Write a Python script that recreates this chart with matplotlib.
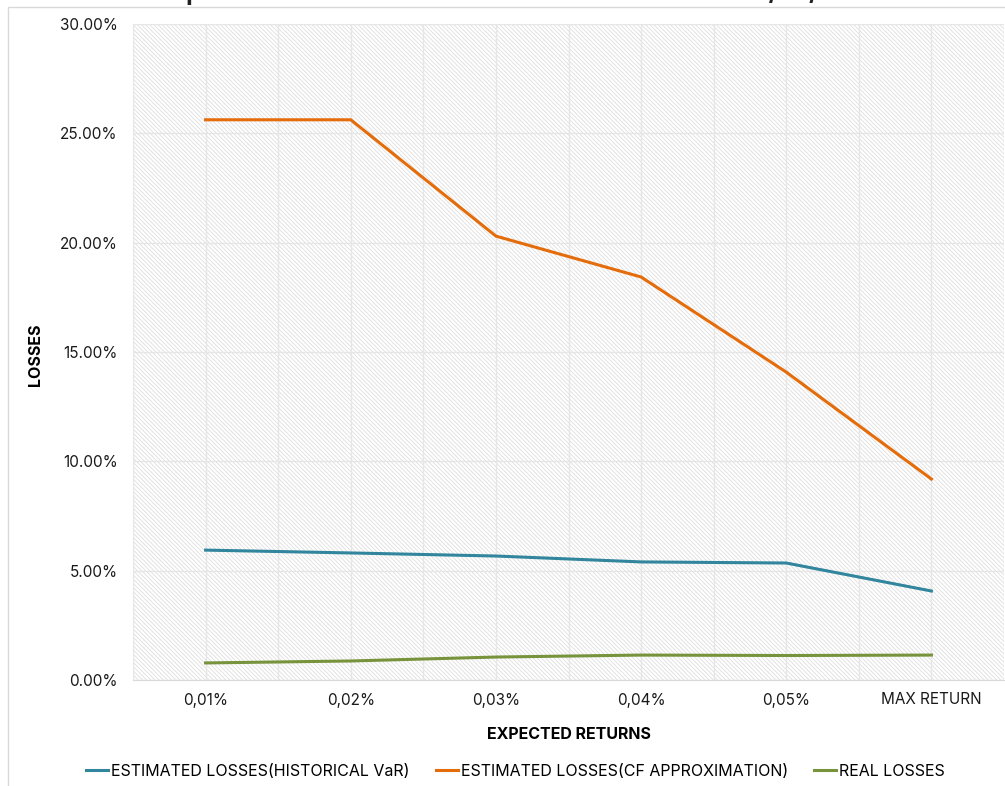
import numpy as np
import matplotlib.pyplot as plt
from matplotlib.patches import Rectangle
from matplotlib.ticker import FuncFormatter, MultipleLocator

plt.rcParams['font.family'] = ['Inter', 'DejaVu Sans']
plt.rcParams['hatch.linewidth'] = 0.6
plt.rcParams['hatch.color'] = '#dedede'

# expected returns on the x axis
categories = ['0,01%', '0,02%', '0,03%', '0,04%', '0,05%', 'MAX RETURN']

# losses in percent
hist_var = [5.94, 5.81, 5.67, 5.40, 5.35, 4.07]
cf_approx = [25.62, 25.62, 20.30, 18.43, 14.08, 9.19]
real_losses = [0.78, 0.87, 1.05, 1.14, 1.12, 1.14]

fig = plt.figure(figsize=(10.05, 7.86), dpi=100)
ax = fig.add_axes([133 / 1005, 106 / 786, 871 / 1005, 656 / 786])

# light frame around the chart area
fig.patches.append(Rectangle((8 / 1005, -0.05), 1.1, (778 + 40) / 786,
                             transform=fig.transFigure, fill=False,
                             edgecolor='#d9d9d9', linewidth=1.0))

x = np.arange(len(categories))

# hatched plot background
ax.add_patch(Rectangle((0, 0), 1, 1, transform=ax.transAxes, facecolor='white',
                       hatch='\\' * 8, edgecolor='#dedede', linewidth=0, zorder=0))

ax.plot(x, hist_var, color='#31859C', lw=2.2, label='ESTIMATED LOSSES(HISTORICAL VaR)', zorder=3)
ax.plot(x, cf_approx, color='#E46C0A', lw=2.2, label='ESTIMATED LOSSES(CF APPROXIMATION)', zorder=3)
ax.plot(x, real_losses, color='#77933C', lw=2.2, label='REAL LOSSES', zorder=3)

ax.set_xlim(-0.5, 5.5)
ax.set_ylim(0, 30)
ax.set_xticks(x)
ax.set_xticklabels(categories)
ax.xaxis.set_minor_locator(MultipleLocator(0.5))
ax.yaxis.set_major_locator(MultipleLocator(5))
ax.yaxis.set_major_formatter(FuncFormatter(lambda v, p: f'{v:.2f}%'))

ax.grid(axis='x', which='both', color='#e6e6e6', lw=1.0, zorder=1)
ax.grid(axis='y', which='major', color='#e6e6e6', lw=1.0, zorder=1)
ax.set_axisbelow(True)

for s in ['top', 'right', 'left']:
    ax.spines[s].set_visible(False)
ax.spines['bottom'].set_color('#d9d9d9')
ax.tick_params(axis='both', which='both', length=0, labelsize=11, colors='#1a1a1a')
ax.tick_params(axis='x', pad=9)
ax.tick_params(axis='y', pad=11)

ax.set_xlabel('EXPECTED RETURNS', fontsize=11.5, fontweight='bold', labelpad=14)
fig.text(35 / 1005, 1 - 355 / 786, 'LOSSES', rotation=90, ha='center', va='center',
         fontsize=11.5, fontweight='bold')

fig.text(0.51, 1.008, 'Graph 5 - Observed losses and estimated losses on 01/03/2020',
         ha='center', va='center', fontsize=17, fontweight='bold', color='#222222')

fig.legend(loc='center', bbox_to_anchor=(0.513, 1 - 771 / 786), ncol=3, frameon=False,
           fontsize=11.5, handlelength=1.4, handletextpad=0.2, columnspacing=1.6)

fig.savefig('out.png', dpi=100)
